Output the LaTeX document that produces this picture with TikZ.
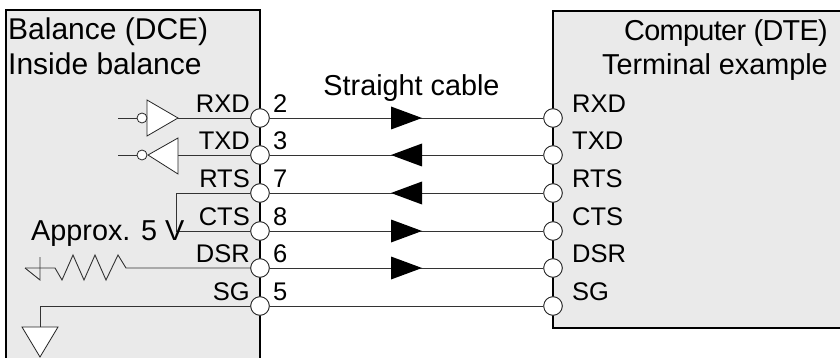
\documentclass[tikz,border=0pt]{standalone}
\usepackage{fontspec}
\setmainfont{Liberation Sans}
\definecolor{boxfill}{HTML}{EAEAEA}
\newcommand{\titlefont}{\fontsize{30}{36}\selectfont}
\newcommand{\midfont}{\fontsize{28.8}{34}\selectfont}
\newcommand{\sigfont}{\fontsize{25.5}{30}\selectfont}
\tikzset{
  panel/.style={draw=black,line width=1.6pt,line cap=rect},
  wire/.style={draw=black!80,line width=0.9pt},
  port/.style={circle,draw=black!85,fill=white,line width=0.8pt,minimum size=18.5pt,inner sep=0pt},
  bubble/.style={circle,draw=black!85,fill=white,line width=0.8pt,minimum size=10pt,inner sep=0pt},
  gate/.style={draw=black!85,fill=white,line width=0.8pt,line join=miter},
  arrowhead/.style={fill=black,draw=none},
  title/.style={inner sep=0pt,font=\titlefont},
  midtitle/.style={inner sep=0pt,font=\midfont},
  sig/.style={inner sep=0pt,font=\sigfont},
}
\begin{document}
\begin{tikzpicture}[x=1pt,y=-1pt]
\useasboundingbox (0,0) rectangle (840,358);
\fill[boxfill] (6,10) rectangle (260,358);
\draw[panel] (6,358) -- (6,10) -- (260,10) -- (260,358);
\fill[boxfill] (553,11) rectangle (840,328);
\draw[panel] (840,11) -- (553,11) -- (553,328) -- (840,328);
% titles
\node[title,anchor=base west] (t1) at (8,40) {Balance (DCE)};
\node[title,anchor=base west] (t2) at (8,75) {Inside balance};
\node[midtitle,anchor=base east] (t3) at (828,41) {\addfontfeature{LetterSpace=-2.2}Computer (DTE)};
\node[midtitle,anchor=base east] (t4) at (828,75) {Terminal example};
\node[midtitle,anchor=base] (cable) at (411.5,96) {Straight cable};
% ports
\foreach \n/\y in {a/118,b/155,c/193,d/231,e/268,f/306}{
  \node[port] (L\n) at (260,\y) {};
  \node[port] (R\n) at (553,\y) {};
}
% wires
\foreach \n in {a,b,c,d,e,f}{ \draw[wire] (L\n) -- (R\n); }
% arrowheads
\foreach \y in {118,231,268}{ \fill[arrowhead] (391,\y-11.5) -- (422,\y) -- (391,\y+11.5) -- cycle; }
\foreach \y in {155,193}{ \fill[arrowhead] (422,\y-11.5) -- (391,\y) -- (422,\y+11.5) -- cycle; }
% drivers
\coordinate (ga) at (118,118);
\coordinate (gb) at (118,155);
\coordinate (ea) at (178,118);
\coordinate (eb) at (178,155);
\draw[wire] (ea) -- (La);
\draw[wire] (eb) -- (Lb);
\draw[gate] (147,100) -- (ea) -- (147,136) -- cycle;
\draw[gate] (178,138) -- (148,155) -- (178,174) -- cycle;
\node[bubble] (ba) at (142,118) {};
\node[bubble] (bb) at (142,155) {};
\draw[wire] (ga) -- (ba);
\draw[wire] (gb) -- (bb);
% RTS to CTS
\coordinate (k1) at (176,193);
\coordinate (k2) at (176,231);
\draw[wire] (Lc) -- (k1) -- (k2) -- (Ld);
% resistor
\coordinate (g1) at (25,268);
\draw[wire] (g1) -- (55,268) -- (62,280) -- (73,255) -- (84,280) -- (95,255) -- (106,280) -- (118,255) -- (126,268) -- (Le);
\draw[wire] (40,257) -- (40,280) -- (g1);
% SG ground
\coordinate (g2) at (40,306);
\draw[wire] (Lf) -- (g2) -- (40,327);
\draw[gate] (22,327) -- (58,327) -- (40,357) -- cycle;
% ports on top of wires
\foreach \n/\y in {a/118,b/155,c/193,d/231,e/268,f/306}{
  \node[port] at (260,\y) {};
  \node[port] at (553,\y) {};
}
% labels
\node[midtitle,anchor=base west] (approx) at (31,240) {Approx. 5 V};
\foreach \t/\y in {RXD/118,TXD/155,RTS/193,CTS/231,DSR/268,SG/306}{
  \node[sig,anchor=base east] at (250,\y-5.5) {\t};
  \node[sig,anchor=base west] at (572,\y-5.5) {\t};
}
\foreach \t/\y in {2/118,3/155,7/193,8/231,6/268,5/306}{
  \node[sig,anchor=base west] at (273,\y-5.5) {\t};
}
\end{tikzpicture}
\end{document}
